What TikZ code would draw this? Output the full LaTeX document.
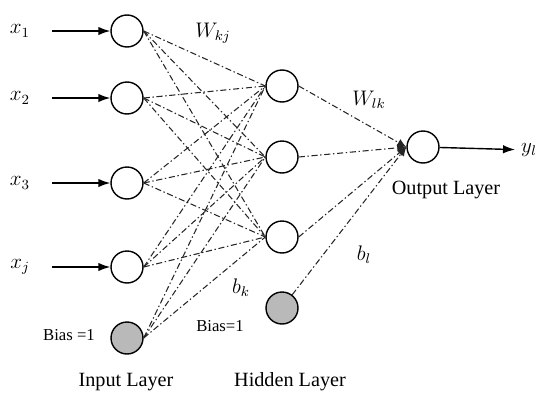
\documentclass[tikz,border=0pt]{standalone}
\usepackage{fontspec}
\setmainfont{Liberation Serif}
\usetikzlibrary{arrows.meta}
\tikzset{
  neuron/.style={draw,circle,thick,minimum size=6.4mm,inner sep=0pt,fill=white},
  biasn/.style={neuron,fill=gray!55},
  wire/.style={semithick,black!85,dash pattern=on 3.5pt off 1.5pt on 0.8pt off 1.5pt},
  inarr/.style={thick,-{Latex[length=2.4mm,width=1.7mm]}},
  lab/.style={font=\fontsize{11.5}{13}\selectfont},
  blab/.style={font=\fontsize{9.5}{11}\selectfont}
}

\begin{document}
\begin{tikzpicture}[x=0.02cm,y=-0.02cm]
    \useasboundingbox (0,0) rectangle (540,392);
    % --- input layer
    \node[neuron] (I1) at (127,31)  {};
    \node[neuron] (I2) at (127,98)  {};
    \node[neuron] (I3) at (127,183) {};
    \node[neuron] (I4) at (127,267) {};
    \node[biasn]  (IB) at (127,338) {};
    % --- hidden layer
    \node[neuron] (H1) at (282,86)  {};
    \node[neuron] (H2) at (282,157) {};
    \node[neuron] (H3) at (282,237) {};
    \node[biasn]  (HB) at (282,308) {};
    % --- output layer
    \node[neuron] (O)  at (423,147) {};
    % --- inputs and output
    \node[lab] (lx1) at (20,31)  {$x_1$};
    \node[lab] (lx2) at (20,98)  {$x_2$};
    \node[lab] (lx3) at (20,183) {$x_3$};
    \node[lab] (lx4) at (20,267) {$x_j$};
    \foreach \k in {1,...,4}
      \draw[inarr,shorten <=3.2mm] (lx\k) -- (I\k);
    \node[lab] (ly) at (529,150) {$y_l$};
    \draw[inarr] (O) -- (ly);
    % --- weights
    \foreach \i in {I1,I2,I3,I4,IB}
      \foreach \h in {H1,H2,H3}
        \draw[wire] (\i.east) -- (\h.west);
    \foreach \h in {H1,H2,H3}
      \draw[wire,-{Latex[length=1.8mm,width=1.6mm]}] (\h.east) -- (O.west);
    \draw[wire,-{Latex[length=1.8mm,width=1.6mm]}] (HB) -- (O.west);
    % --- labels
    \node[lab] (wkj) at (213,33)  {$W_{kj}$};
    \node[lab] (wlk) at (369,100) {$W_{lk}$};
    \node[lab] (bk)  at (241,288) {$b_k$};
    \node[lab] (bl)  at (364,255) {$b_l$};
    \node[blab] (bias1) at (69,335)  {Bias =1};
    \node[blab] (bias2) at (220,326) {Bias=1};
    \node[lab] (inl)  at (126,382) {Input Layer};
    \node[lab] (hidl) at (290,382) {Hidden Layer};
    \node[lab] (outl) at (446,190) {Output Layer};
  \end{tikzpicture}
\end{document}
